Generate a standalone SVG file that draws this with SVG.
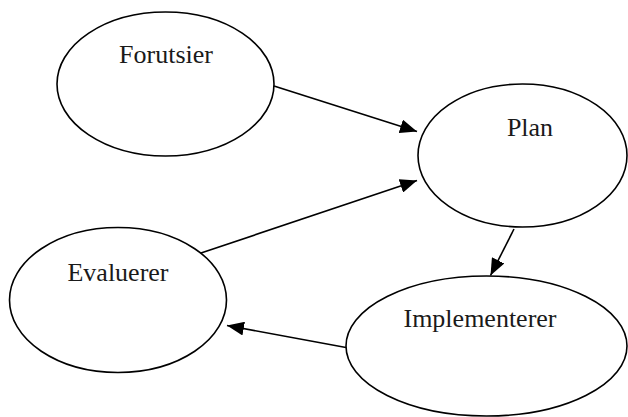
<svg xmlns="http://www.w3.org/2000/svg" width="628" height="417" viewBox="0 0 628 417">
<style>
.node ellipse{fill:#fff;stroke:#000;stroke-width:1.6}
.node text{font-family:"Liberation Serif","Times New Roman",serif;font-size:26px;fill:#1a1a1a;text-anchor:middle}
.edge{stroke:#000;stroke-width:1.6;fill:none;marker-end:url(#arr)}
</style>
<defs>
<marker id="arr" markerUnits="userSpaceOnUse" markerWidth="18" markerHeight="14" viewBox="0 0 18 14" refX="17" refY="7" orient="auto">
<path d="M0,0 L17,7 L0,14 Z" fill="#000"/>
</marker>
</defs>
<rect width="628" height="417" fill="#fff"/>
<g id="forutsier" class="node"><ellipse cx="165.5" cy="84" rx="108.5" ry="72"/><text x="166" y="63">Forutsier</text></g>
<g id="plan" class="node"><ellipse cx="522.5" cy="155.5" rx="104.5" ry="71.5"/><text x="530" y="136">Plan</text></g>
<g id="evaluerer" class="node"><ellipse cx="118" cy="300" rx="108.5" ry="72.5"/><text x="118" y="281">Evaluerer</text></g>
<g id="implementerer" class="node"><ellipse cx="486.5" cy="346" rx="140.5" ry="70"/><text x="480" y="327">Implementerer</text></g>
<g id="connectors">
<line class="edge" x1="274" y1="86" x2="417" y2="131.5"/>
<line class="edge" x1="201" y1="253" x2="417" y2="180.5"/>
<line class="edge" x1="514" y1="229" x2="490.5" y2="275.5"/>
<line class="edge" x1="346" y1="347.5" x2="227" y2="325.5"/>
</g>
</svg>
